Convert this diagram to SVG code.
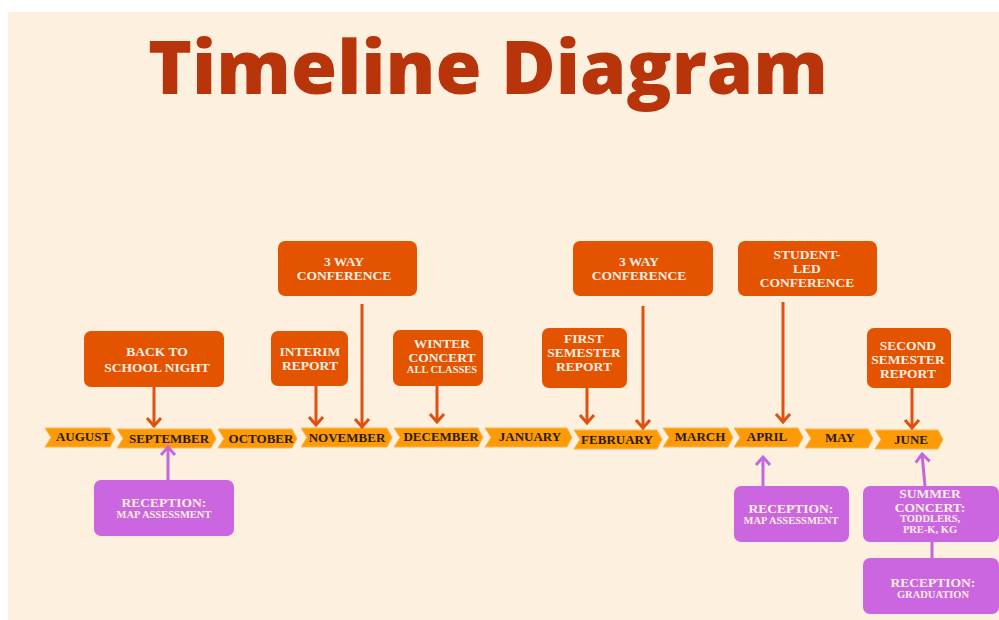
<svg xmlns="http://www.w3.org/2000/svg" width="999" height="620" viewBox="0 0 999 620">
<defs>
<style>
.bg{fill:#fef0de}
.title{font-family:"Open Sans","Liberation Sans",sans-serif;font-weight:800;font-size:75px;fill:#b8340b}
.seg{fill:#fd9a08;stroke:#ffb54a;stroke-width:1}
.mon{font-family:"Liberation Serif",serif;font-weight:700;font-size:13px;fill:#2b1a08;text-anchor:middle}
.ob{fill:#e35300}
.pb{fill:#cb66e0}
.bt{font-family:"Liberation Serif",serif;font-weight:700;font-size:13.5px;fill:#fcefe2;text-anchor:middle}
.bs{font-family:"Liberation Serif",serif;font-weight:700;font-size:10.5px;fill:#fcefe2;text-anchor:middle}
.oc{stroke:#e05010;stroke-width:3;fill:none}
.pc{stroke:#c466dc;stroke-width:3;fill:none}
</style>
<marker id="ao" viewBox="-10 -9 12 18" refX="0" refY="0" markerWidth="12" markerHeight="18" markerUnits="userSpaceOnUse" orient="auto">
<path d="M-8,-7 L0,0 L-8,7" fill="none" stroke="#e05010" stroke-width="3"/>
</marker>
<marker id="ap" viewBox="-10 -9 12 18" refX="0" refY="0" markerWidth="12" markerHeight="18" markerUnits="userSpaceOnUse" orient="auto">
<path d="M-8,-7 L0,0 L-8,7" fill="none" stroke="#c466dc" stroke-width="3"/>
</marker>
</defs>
<rect x="0" y="0" width="999" height="620" fill="#ffffff"/>
<rect class="bg" x="8" y="12" width="991" height="608"/>
<text class="title" x="148" y="94" textLength="680" lengthAdjust="spacingAndGlyphs">Timeline Diagram</text>

<g id="timeline">
<g id="m-aug"><path class="seg" d="M45,428 L110,428 L115,437.5 L110,447 L45,447 L51,437.5 Z"/><text class="mon" x="83" y="441">AUGUST</text></g>
<g id="m-sep"><path class="seg" d="M117,429 L211,429 L216,438.5 L211,448 L117,448 L123,438.5 Z"/><text class="mon" x="169" y="443">SEPTEMBER</text></g>
<g id="m-oct"><path class="seg" d="M218,429 L292,429 L297,438.5 L292,448 L218,448 L224,438.5 Z"/><text class="mon" x="261" y="443">OCTOBER</text></g>
<g id="m-nov"><path class="seg" d="M301,428 L387,428 L392,437.5 L387,447 L301,447 L307,437.5 Z"/><text class="mon" x="347" y="442">NOVEMBER</text></g>
<g id="m-dec"><path class="seg" d="M394,428 L478,428 L483,437.5 L478,447 L394,447 L400,437.5 Z"/><text class="mon" x="441" y="441">DECEMBER</text></g>
<g id="m-jan"><path class="seg" d="M485,428 L567,428 L572,437.5 L567,447 L485,447 L491,437.5 Z"/><text class="mon" x="530" y="441">JANUARY</text></g>
<g id="m-feb"><path class="seg" d="M574,430 L657,430 L662,439.5 L657,449 L574,449 L580,439.5 Z"/><text class="mon" x="617" y="444">FEBRUARY</text></g>
<g id="m-mar"><path class="seg" d="M663,428 L728,428 L733,437.5 L728,447 L663,447 L669,437.5 Z"/><text class="mon" x="700" y="441">MARCH</text></g>
<g id="m-apr"><path class="seg" d="M734,428 L798,428 L803,437.5 L798,447 L734,447 L740,437.5 Z"/><text class="mon" x="767" y="441">APRIL</text></g>
<g id="m-may"><path class="seg" d="M805,429 L868,429 L873,438.5 L868,448 L805,448 L811,438.5 Z"/><text class="mon" x="840" y="442">MAY</text></g>
<g id="m-jun"><path class="seg" d="M875,430 L938,430 L943,439.5 L938,449 L875,449 L881,439.5 Z"/><text class="mon" x="911" y="444">JUNE</text></g>
</g>

<g id="connectors">
<line class="oc" x1="154" y1="387" x2="154" y2="426" marker-end="url(#ao)"/>
<line class="oc" x1="316" y1="386" x2="316" y2="425" marker-end="url(#ao)"/>
<line class="oc" x1="362" y1="304" x2="362" y2="427" marker-end="url(#ao)"/>
<line class="oc" x1="437" y1="386" x2="437" y2="422" marker-end="url(#ao)"/>
<line class="oc" x1="587" y1="388" x2="587" y2="423" marker-end="url(#ao)"/>
<line class="oc" x1="643" y1="306" x2="643" y2="428" marker-end="url(#ao)"/>
<line class="oc" x1="783" y1="302" x2="783" y2="422" marker-end="url(#ao)"/>
<line class="oc" x1="912" y1="388" x2="912" y2="428" marker-end="url(#ao)"/>
<line class="pc" x1="168" y1="480" x2="168" y2="447" marker-end="url(#ap)"/>
<line class="pc" x1="763" y1="486" x2="763" y2="457" marker-end="url(#ap)"/>
<line class="pc" x1="925" y1="486" x2="922" y2="454" marker-end="url(#ap)"/>
<line class="pc" x1="932" y1="542" x2="932" y2="558"/>
</g>

<g id="n-backtoschool"><rect class="ob" x="84" y="331" width="140" height="56" rx="7"/><text class="bt" x="157" y="356">BACK TO</text><text class="bt" x="157" y="372">SCHOOL NIGHT</text></g>
<g id="n-conf1"><rect class="ob" x="278" y="241" width="139" height="55" rx="7"/><text class="bt" x="344" y="266">3 WAY</text><text class="bt" x="344" y="280">CONFERENCE</text></g>
<g id="n-interim"><rect class="ob" x="271" y="331" width="77" height="55" rx="7"/><text class="bt" x="310" y="356">INTERIM</text><text class="bt" x="310" y="370">REPORT</text></g>
<g id="n-winter"><rect class="ob" x="393" y="330" width="90" height="56" rx="7"/><text class="bt" x="442" y="348">WINTER</text><text class="bt" x="442" y="362">CONCERT</text><text class="bs" x="442" y="373">ALL CLASSES</text></g>
<g id="n-firstsem"><rect class="ob" x="542" y="328" width="85" height="60" rx="7"/><text class="bt" x="584" y="343">FIRST</text><text class="bt" x="584" y="357">SEMESTER</text><text class="bt" x="584" y="371">REPORT</text></g>
<g id="n-conf2"><rect class="ob" x="573" y="241" width="140" height="55" rx="7"/><text class="bt" x="639" y="266">3 WAY</text><text class="bt" x="639" y="280">CONFERENCE</text></g>
<g id="n-studentled"><rect class="ob" x="738" y="241" width="139" height="55" rx="7"/><text class="bt" x="807" y="259">STUDENT-</text><text class="bt" x="807" y="273">LED</text><text class="bt" x="807" y="287">CONFERENCE</text></g>
<g id="n-secondsem"><rect class="ob" x="867" y="328" width="84" height="60" rx="7"/><text class="bt" x="908" y="350">SECOND</text><text class="bt" x="908" y="364">SEMESTER</text><text class="bt" x="908" y="378">REPORT</text></g>

<g id="n-reception1"><rect class="pb" x="94" y="480" width="140" height="56" rx="7"/><text class="bt" x="164" y="507">RECEPTION:</text><text class="bs" x="164" y="518">MAP ASSESSMENT</text></g>
<g id="n-reception2"><rect class="pb" x="734" y="486" width="115" height="56" rx="7"/><text class="bt" x="791" y="513">RECEPTION:</text><text class="bs" x="791" y="524">MAP ASSESSMENT</text></g>
<g id="n-summer"><rect class="pb" x="863" y="486" width="136" height="56" rx="7"/><text class="bt" x="930" y="498">SUMMER</text><text class="bt" x="930" y="511.5">CONCERT:</text><text class="bs" x="930" y="522">TODDLERS,</text><text class="bs" x="930" y="533">PRE-K, KG</text></g>
<g id="n-graduation"><rect class="pb" x="863" y="558" width="136" height="56" rx="7"/><text class="bt" x="933" y="587">RECEPTION:</text><text class="bs" x="933" y="598">GRADUATION</text></g>
</svg>
